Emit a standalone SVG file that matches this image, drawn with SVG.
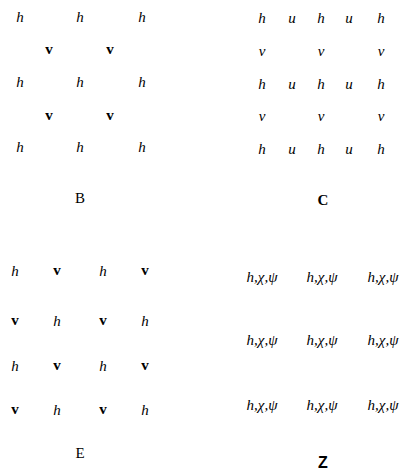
<svg xmlns="http://www.w3.org/2000/svg" width="400" height="473" viewBox="0 0 400 473">
<style>
text{font-family:"Liberation Serif","Times New Roman",serif;font-size:15px;fill:#000;text-anchor:middle}
.i{font-style:italic}
.b{font-weight:bold}
.lab{font-size:15px}
.z{font-family:"Liberation Sans",Arial,sans-serif;font-size:16px;font-weight:bold}
</style>
<rect width="400" height="473" fill="#fff"/>
<g id="panelB">
<text class="i" x="20" y="22">h</text><text class="i" x="80" y="22">h</text><text class="i" x="142" y="22">h</text>
<text class="b" x="49" y="54">v</text><text class="b" x="110" y="54">v</text>
<text class="i" x="20" y="87">h</text><text class="i" x="80" y="87">h</text><text class="i" x="142" y="87">h</text>
<text class="b" x="49" y="120">v</text><text class="b" x="110" y="120">v</text>
<text class="i" x="20" y="152">h</text><text class="i" x="80" y="152">h</text><text class="i" x="142" y="152">h</text>
<text class="lab" x="80" y="203">B</text>
</g>
<g id="panelC">
<text class="i" x="262" y="23">h</text><text class="i" x="292" y="23">u</text><text class="i" x="321" y="23">h</text><text class="i" x="349" y="23">u</text><text class="i" x="381" y="23">h</text>
<text class="i" x="262" y="56">v</text><text class="i" x="321" y="56">v</text><text class="i" x="381" y="56">v</text>
<text class="i" x="262" y="89">h</text><text class="i" x="292" y="89">u</text><text class="i" x="321" y="89">h</text><text class="i" x="349" y="89">u</text><text class="i" x="381" y="89">h</text>
<text class="i" x="262" y="121">v</text><text class="i" x="321" y="121">v</text><text class="i" x="381" y="121">v</text>
<text class="i" x="262" y="154">h</text><text class="i" x="292" y="154">u</text><text class="i" x="321" y="154">h</text><text class="i" x="349" y="154">u</text><text class="i" x="381" y="154">h</text>
<text class="lab b" x="323" y="205">C</text>
</g>
<g id="panelE">
<text class="i" x="15" y="276">h</text><text class="b" x="57" y="275">v</text><text class="i" x="103" y="276">h</text><text class="b" x="145" y="275">v</text>
<text class="b" x="15" y="325">v</text><text class="i" x="57" y="326">h</text><text class="b" x="103" y="325">v</text><text class="i" x="145" y="326">h</text>
<text class="i" x="15" y="371">h</text><text class="b" x="57" y="370">v</text><text class="i" x="103" y="371">h</text><text class="b" x="145" y="370">v</text>
<text class="b" x="15" y="414">v</text><text class="i" x="57" y="415">h</text><text class="b" x="103" y="414">v</text><text class="i" x="145" y="415">h</text>
<text class="lab" x="80" y="458">E</text>
</g>
<g id="panelZ">
<text class="i" x="262" y="282">h,χ,ψ</text><text class="i" x="322" y="282">h,χ,ψ</text><text class="i" x="383" y="282">h,χ,ψ</text>
<text class="i" x="262" y="345">h,χ,ψ</text><text class="i" x="322" y="345">h,χ,ψ</text><text class="i" x="383" y="345">h,χ,ψ</text>
<text class="i" x="262" y="410">h,χ,ψ</text><text class="i" x="322" y="410">h,χ,ψ</text><text class="i" x="383" y="410">h,χ,ψ</text>
<text class="z" x="323" y="468">Z</text>
</g>
</svg>
